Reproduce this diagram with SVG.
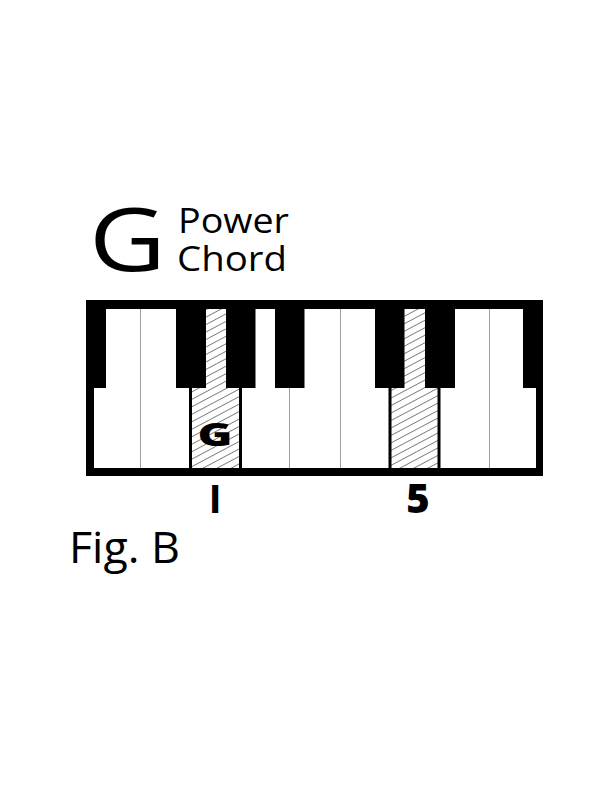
<svg xmlns="http://www.w3.org/2000/svg" width="612" height="792" viewBox="0 0 612 792">
<defs>
<style>
.txt{font-family:"Open Sans","Liberation Sans",sans-serif;fill:#000}
.bold{font-family:"Open Sans","Liberation Sans",sans-serif;font-weight:700;fill:#000}
.heavy{font-family:"Open Sans","Liberation Sans",sans-serif;font-weight:800;fill:#000}
.thin{stroke:#a0a0a0;stroke-width:1}
.thick{stroke:#000;stroke-width:3}
.bk{fill:#000}
</style>
<pattern id="hatch" patternUnits="userSpaceOnUse" width="10" height="6.6" patternTransform="rotate(-28)">
<rect width="10" height="6.6" fill="#fff"/>
<line x1="0" y1="0.4" x2="10" y2="0.4" stroke="#555" stroke-width="0.8"/>
</pattern>
</defs>
<rect width="612" height="792" fill="#fff"/>
<g id="title">
<text class="txt" x="89" y="271" font-size="87" font-weight="500" textLength="77" lengthAdjust="spacingAndGlyphs">G</text>
<text class="txt" x="178" y="232.7" font-size="35" textLength="111" lengthAdjust="spacingAndGlyphs">Power</text>
<text class="txt" x="177" y="271" font-size="35" textLength="110" lengthAdjust="spacingAndGlyphs">Chord</text>
</g>
<g id="keyboard">
<rect x="86" y="300" width="457" height="176" fill="#000"/>
<rect x="94" y="309" width="442" height="159" fill="#fff"/>
<rect x="190" y="309" width="50" height="159" fill="url(#hatch)"/>
<rect x="390" y="309" width="49" height="159" fill="url(#hatch)"/>
<g id="thin-lines">
<line class="thin" x1="140.5" y1="309" x2="140.5" y2="468"/>
<line class="thin" x1="289.5" y1="388" x2="289.5" y2="468"/>
<line class="thin" x1="340.5" y1="309" x2="340.5" y2="468"/>
<line class="thin" x1="489.5" y1="309" x2="489.5" y2="468"/>
</g>
<g id="thick-lines">
<line class="thick" x1="190.5" y1="388" x2="190.5" y2="468"/>
<line class="thick" x1="240.5" y1="388" x2="240.5" y2="468"/>
<line class="thick" x1="390" y1="388" x2="390" y2="468"/>
<line class="thick" x1="439" y1="388" x2="439" y2="468"/>
</g>
<g id="black-keys">
<rect class="bk" x="86" y="300" width="20" height="88"/>
<rect class="bk" x="176" y="300" width="30" height="88"/>
<rect class="bk" x="226" y="300" width="29.5" height="88"/>
<rect class="bk" x="275" y="300" width="29.5" height="88"/>
<rect class="bk" x="375" y="300" width="29.5" height="88"/>
<rect class="bk" x="425" y="300" width="30" height="88"/>
<rect class="bk" x="523" y="300" width="20" height="88"/>
</g>
<text class="heavy" x="197.5" y="446" font-size="32" textLength="35" lengthAdjust="spacingAndGlyphs">G</text>
</g>
<g id="labels">
<text class="bold" x="215" y="513" font-size="40" text-anchor="middle">I</text>
<text class="heavy" x="418" y="513" font-size="40" text-anchor="middle">5</text>
<text class="txt" x="69" y="563.3" font-size="43" textLength="111" lengthAdjust="spacingAndGlyphs">Fig. B</text>
</g>
</svg>
